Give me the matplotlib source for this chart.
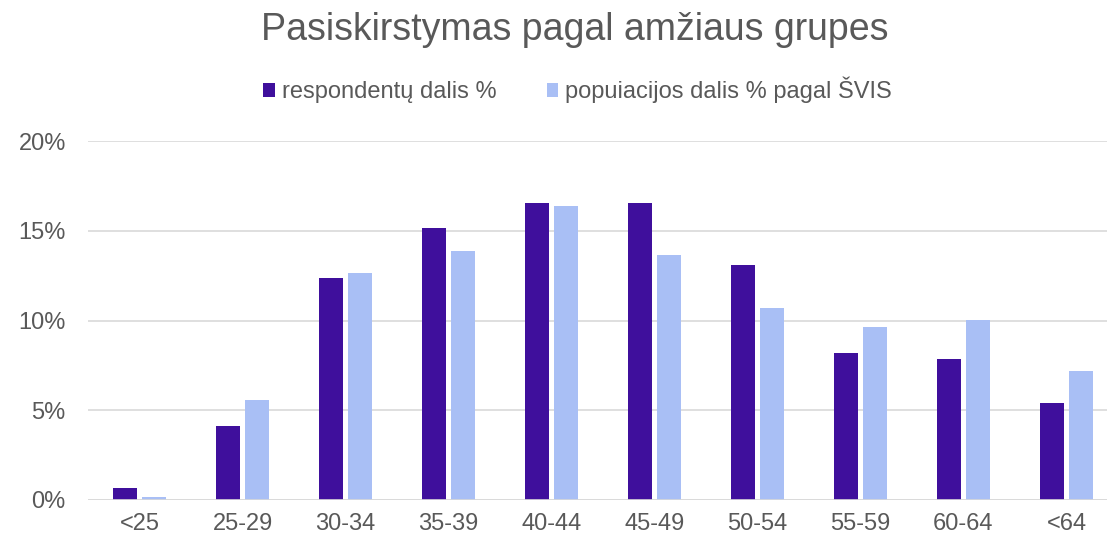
import matplotlib
matplotlib.use("Agg")
import matplotlib.pyplot as plt
import numpy as np
from matplotlib.ticker import PercentFormatter

plt.rcParams['font.family'] = ['Liberation Sans', 'DejaVu Sans']

# data (percent)
groups = ["<25", "25-29", "30-34", "35-39", "40-44", "45-49", "50-54", "55-59", "60-64", "<64"]
respondents = [0.67, 4.12, 12.37, 15.15, 16.55, 16.55, 13.09, 8.19, 7.86, 5.40]
population = [0.17, 5.57, 12.65, 13.87, 16.38, 13.65, 10.70, 9.64, 10.03, 7.19]
series_names = ["respondentų dalis %", "popuiacijos dalis % pagal ŠVIS"]

dark = "#3f0f9c"
light = "#a9bff5"
grey = "#595959"

fig = plt.figure(figsize=(11.07, 5.40), dpi=100)
ax = fig.add_axes([88 / 1107, 40 / 540, 1030 / 1107, 359 / 540])

x = np.arange(len(groups))
w = 0.233
off = w / 2 + 0.029
ax.bar(x - off, respondents, width=w, color=dark, label=series_names[0], zorder=3)
ax.bar(x + off, population, width=w, color=light, label=series_names[1], zorder=3)

ax.set_xlim(-0.5, len(groups) - 0.5)
ax.set_ylim(0, 20)
ax.set_yticks([0, 5, 10, 15, 20])
ax.yaxis.set_major_formatter(PercentFormatter(decimals=0))
ax.set_xticks(x)
ax.set_xticklabels(groups)
ax.grid(axis='y', color='#d9d9d9', linewidth=1.2, zorder=0)
for s in ax.spines.values():
    s.set_visible(False)
ax.axhline(0, color='#d9d9d9', linewidth=1.2, zorder=4)
ax.tick_params(axis='both', length=0, labelsize=17, colors=grey)
ax.tick_params(axis='x', pad=9)
ax.tick_params(axis='y', pad=16)

fig.text(575 / 1107, 1 - 30 / 540, "Pasiskirstymas pagal amžiaus grupes", ha='center', va='center',
         fontsize=27, color=grey)
fig.legend(loc='center', bbox_to_anchor=(0.522, 1 - 90 / 540), ncol=2, frameon=False,
           fontsize=17, labelcolor=grey, handlelength=0.5, handleheight=0.5,
           handletextpad=0.3, columnspacing=2.1)

fig.savefig("out.png", dpi=100)
